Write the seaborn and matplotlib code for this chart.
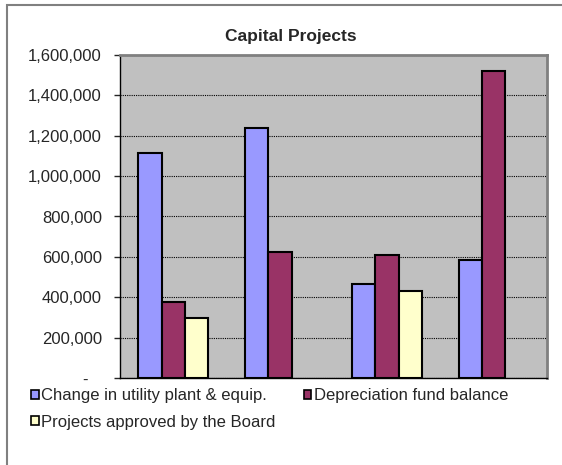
import pandas as pd
import matplotlib.pyplot as plt
import seaborn as sns
from matplotlib.patches import Rectangle

groups = ['1', '2', '3', '4']
plant_equip = [1112000, 1239000, 466000, 586000]
depreciation = [379000, 623000, 608000, 1519000]
approved = [297000, None, 430000, None]
series = ['Change in utility plant & equip.', 'Depreciation fund balance',
          'Projects approved by the Board']
colors = ['#9999FF', '#993366', '#FFFFCC']
yticks = [0, 200000, 400000, 600000, 800000, 1000000, 1200000, 1400000, 1600000]


def main():
    sns.set_style('white')
    plt.rcParams['font.family'] = ['Liberation Sans', 'DejaVu Sans']
    plt.rcParams['font.size'] = 12

    df = pd.DataFrame({
        'group': groups * 3,
        'series': [series[0]] * 4 + [series[1]] * 4 + [series[2]] * 4,
        'value': plant_equip + depreciation + approved,
    }).dropna()

    fig = plt.figure(figsize=(5.62, 4.65), dpi=100)
    ax = fig.add_axes([120 / 562, 1 - 378.3 / 465, 427 / 562, 323.6 / 465])

    sns.barplot(data=df, x='group', y='value', hue='series', hue_order=series,
                order=groups, palette=colors, saturation=1, width=0.655, gap=0,
                edgecolor='black', linewidth=1.5, ax=ax, zorder=3)

    ax.set_facecolor('#C0C0C0')
    ax.set_ylim(0, 1600000)
    ax.set_xlim(-0.5, 3.5)
    ax.set_yticks(yticks)
    ax.set_yticklabels(['-   '] + [f'{v:,}' for v in yticks[1:]])
    ax.set_xticks([])
    ax.set_xlabel('')
    ax.set_ylabel('')
    ax.tick_params(axis='y', length=4, width=1, direction='out', left=True,
                   labelsize=12, pad=9)
    ax.grid(axis='y', color='black', linestyle=(0, (1, 1)), linewidth=0.8, zorder=1)
    ax.set_axisbelow(True)

    for side in ['top', 'right']:
        ax.spines[side].set_color('#808080')
        ax.spines[side].set_linewidth(2)
    for side in ['left', 'bottom']:
        ax.spines[side].set_color('black')
        ax.spines[side].set_linewidth(1)

    fig.text(291 / 562, 1 - 37 / 465, 'Capital Projects', ha='center', va='center',
             fontsize=12.5, fontweight='bold')

    # legend filled row by row: items 1 and 2 on the first line, item 3 below
    handles, labels = ax.get_legend_handles_labels()
    ax.get_legend().remove()
    for h in handles:
        h.set_linewidth(1.2)
    order = [0, 2, 1]
    fig.legend([handles[i] for i in order], [labels[i] for i in order],
               loc='upper left', ncol=2,
               bbox_to_anchor=(31 / 562, 1 - 388 / 465), frameon=False,
               handlelength=0.45, handleheight=0.45, handletextpad=0.15,
               columnspacing=1.7, labelspacing=0.7, borderpad=0, borderaxespad=0,
               fontsize=12)

    # outer chart border (only top and left visible in the frame)
    fig.add_artist(Rectangle((7 / 562, -0.1), 1.2, 1.1 - 5 / 465,
                             transform=fig.transFigure, fill=False,
                             edgecolor='#808080', linewidth=1.5))

    fig.savefig('out.png', dpi=100)
    plt.close()


if __name__ == '__main__':
    main()
